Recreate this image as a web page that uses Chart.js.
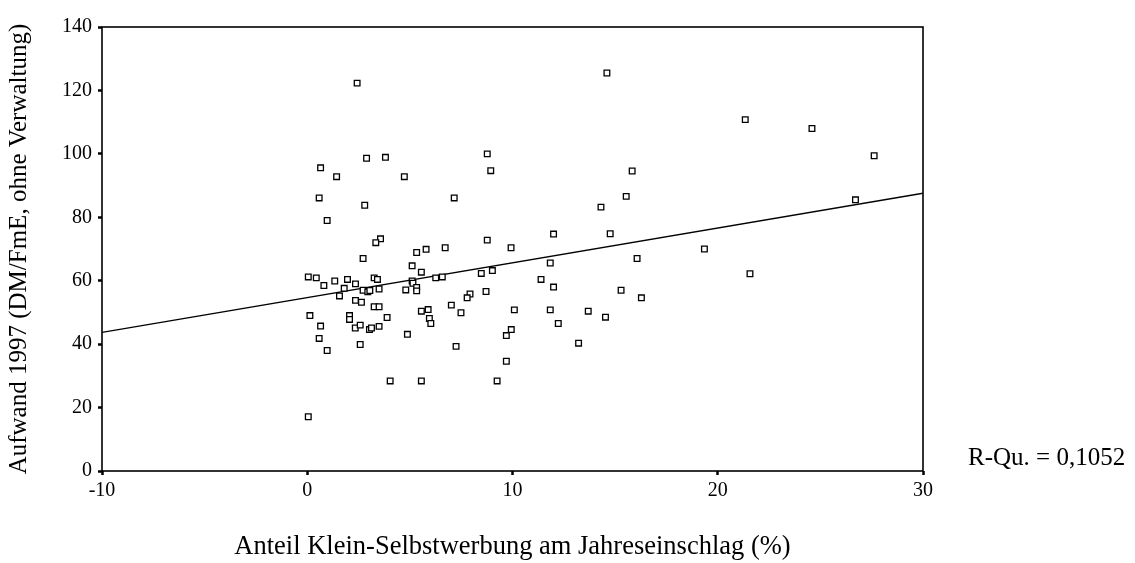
<!DOCTYPE html>
<html>
<head>
<meta charset="utf-8">
<script src="https://cdn.jsdelivr.net/npm/chart.js@4.4.1/dist/chart.umd.min.js"></script>
<style>
  html, body { margin: 0; padding: 0; background: #ffffff; }
  #wrap { width: 1135px; height: 563px; }
</style>
</head>
<body>
<div id="wrap"><canvas id="c" width="1135" height="563"></canvas></div>
<script>
// ---- data ----
const shareValues = [
  0.05, 0.44, 0.81, 1.34, 1.57, 0.13, 0.65, 0.58, 0.97, 0.05,
  0.65, 1.43, 0.58, 0.97, 2.43, 2.89, 3.81, 4.73, 8.77, 8.94,
  7.16, 2.80, 3.57, 3.34, 12.0, 8.77, 2.72, 5.33, 5.79, 6.72,
  9.93, 5.11, 5.56, 11.84, 1.96, 2.35, 3.26, 3.42, 5.11, 5.15,
  6.26, 6.58, 8.48, 9.02, 11.39, 12.0, 1.80, 2.72, 2.95, 3.05,
  3.50, 4.80, 5.33, 5.33, 7.93, 7.79, 8.71, 2.35, 2.64, 3.26,
  3.50, 5.56, 5.89, 7.02, 7.49, 10.09, 11.84, 2.06, 2.06, 3.89,
  5.95, 6.02, 12.23, 2.34, 2.58, 3.03, 3.13, 3.50, 4.88, 9.94,
  9.70, 2.58, 7.25, 13.22, 9.70, 4.04, 5.56, 9.25, 14.6, 21.34,
  24.59, 27.62, 15.83, 15.54, 14.31, 26.71, 14.76, 19.35, 16.07, 21.57,
  15.29, 16.28, 13.69, 14.53
];
const costValues = [
  61.2, 60.9, 58.5, 59.9, 55.2, 49.0, 45.7, 41.8, 38.0, 17.1,
  95.6, 92.8, 86.1, 79.0, 122.3, 98.6, 98.9, 92.8, 100.0, 94.7,
  86.1, 83.8, 73.2, 72.0, 74.7, 72.8, 67.0, 68.9, 69.9, 70.4,
  70.4, 64.7, 62.7, 65.6, 60.4, 59.0, 60.9, 60.4, 59.9, 59.2,
  60.9, 61.2, 62.3, 63.2, 60.4, 58.0, 57.6, 57.0, 56.5, 56.9,
  57.4, 57.1, 57.9, 56.8, 55.8, 54.6, 56.6, 53.8, 53.2, 51.8,
  51.8, 50.4, 50.9, 52.3, 49.9, 50.8, 50.8, 49.0, 47.8, 48.4,
  48.1, 46.5, 46.5, 45.1, 46.0, 44.6, 45.1, 45.6, 43.1, 44.6,
  42.7, 39.9, 39.3, 40.3, 34.6, 28.4, 28.4, 28.4, 125.5, 110.8,
  108.0, 99.4, 94.6, 86.6, 83.2, 85.5, 74.8, 70.0, 67.0, 62.2,
  57.0, 54.6, 50.4, 48.5
];
const fitLineX = [-10, 30];
const fitLineY = [43.7, 87.6];
const xTickValues = [-10, 0, 10, 20, 30];
const yTickValues = [0, 20, 40, 60, 80, 100, 120, 140];
const xAxisTitle = 'Anteil Klein-Selbstwerbung am Jahreseinschlag (%)';
const yAxisTitle = 'Aufwand 1997 (DM/FmE, ohne Verwaltung)';
const rSquareText = 'R-Qu. = 0,1052';

// ---- build library structures ----
const scatterPoints = shareValues.map((v, i) => ({ x: v, y: costValues[i] }));
const linePoints = fitLineX.map((v, i) => ({ x: v, y: fitLineY[i] }));

const serif = '"Liberation Serif", "Times New Roman", Times, serif';

const framePlugin = {
  id: 'frame',
  beforeDatasetsDraw(chart) {
    const a = chart.chartArea;
    const ctx = chart.ctx;
    ctx.save();
    ctx.strokeStyle = '#000';
    ctx.lineWidth = 1.6;
    ctx.strokeRect(a.left, a.top, a.right - a.left, a.bottom - a.top);
    ctx.restore();
  },
  afterDraw(chart) {
    const a = chart.chartArea;
    const ctx = chart.ctx;
    ctx.save();
    ctx.fillStyle = '#000';
    ctx.font = '25px ' + serif;
    ctx.textAlign = 'left';
    ctx.textBaseline = 'alphabetic';
    ctx.fillText(rSquareText, a.right + 45, a.bottom - 6);
    ctx.restore();
  }
};

new Chart(document.getElementById('c'), {
  type: 'scatter',
  data: {
    datasets: [
      {
        type: 'scatter',
        data: scatterPoints,
        pointStyle: 'rect',
        pointRadius: 4,
        pointBorderWidth: 1.3,
        borderColor: '#000',
        backgroundColor: '#fff',
        pointBackgroundColor: '#fff',
        pointBorderColor: '#000',
        order: 1
      },
      {
        type: 'line',
        data: linePoints,
        borderColor: '#000',
        borderWidth: 1.4,
        pointRadius: 0,
        fill: false,
        tension: 0,
        order: 2
      }
    ]
  },
  options: {
    responsive: false,
    animation: false,
    devicePixelRatio: 1,
    layout: { padding: { left: 0, top: 27, right: 212, bottom: 0 } },
    plugins: { legend: { display: false }, tooltip: { enabled: false } },
    scales: {
      x: {
        type: 'linear',
        min: -10,
        max: 30,
        afterBuildTicks: s => { s.ticks = xTickValues.map(v => ({ value: v })); },
        afterFit: s => { s.height = 92; },
        border: { display: false },
        grid: { drawOnChartArea: false, drawTicks: true, tickLength: 4, tickWidth: 2.5, tickColor: '#000' },
        ticks: { color: '#000', font: { family: serif, size: 20 }, padding: 4, maxRotation: 0 },
        title: { display: true, text: xAxisTitle, color: '#000', font: { family: serif, size: 26.5 }, padding: { top: 0, bottom: 0 } }
      },
      y: {
        type: 'linear',
        min: 0,
        max: 140,
        afterBuildTicks: s => { s.ticks = yTickValues.map(v => ({ value: v })); },
        afterFit: s => { s.width = 102; },
        border: { display: false },
        grid: { drawOnChartArea: false, drawTicks: true, tickLength: 4, tickWidth: 2.5, tickColor: '#000' },
        ticks: { color: '#000', font: { family: serif, size: 20 }, padding: 6 },
        title: { display: true, text: yAxisTitle, color: '#000', font: { family: serif, size: 25 }, padding: { top: 4, bottom: 0 } }
      }
    }
  },
  plugins: [framePlugin]
});
</script>
</body>
</html>
